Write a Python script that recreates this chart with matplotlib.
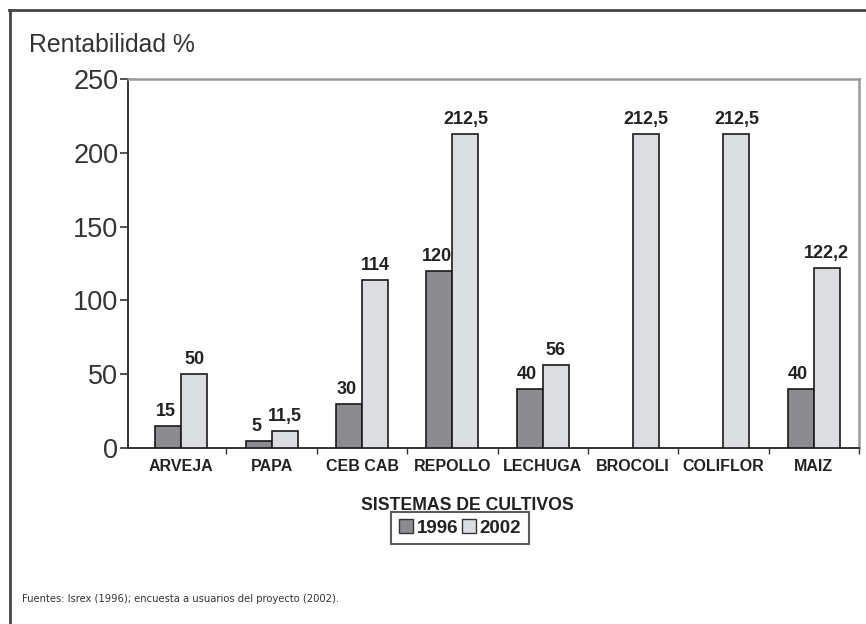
import matplotlib
matplotlib.use("Agg")
import matplotlib.pyplot as plt
import numpy as np
from matplotlib.patches import Patch
from matplotlib.lines import Line2D

categories = ["ARVEJA", "PAPA", "CEB CAB", "REPOLLO", "LECHUGA", "BROCOLI", "COLIFLOR", "MAIZ"]
values_1996 = [15, 5, 30, 120, 40, None, None, 40]
values_2002 = [50, 11.5, 114, 212.5, 56, 212.5, 212.5, 122.2]
labels_1996 = ["15", "5", "30", "120", "40", "", "", "40"]
labels_2002 = ["50", "11,5", "114", "212,5", "56", "212,5", "212,5", "122,2"]
yticks = [0, 50, 100, 150, 200, 250]
series_names = ["1996", "2002"]

plt.rcParams['font.family'] = ['Liberation Sans', 'DejaVu Sans']

fig = plt.figure(figsize=(8.66, 6.24), dpi=100)
ax = fig.add_axes([128/866, 1-448/624, (859-128)/866, (448-79)/624])

c1996 = "#8c8c90"
c2002 = "#dcdde0"
txt = "#222222"
w = 0.288
x = np.arange(len(categories))

for i in range(len(categories)):
    v1 = values_1996[i]
    v2 = values_2002[i]
    if v1 is not None:
        ax.bar(x[i] - w/2, v1, width=w, color=c1996, edgecolor="#1a1a1a", linewidth=1.2, zorder=3)
        ax.text(x[i] - w/2 - 0.03, v1 + 4, labels_1996[i], ha="center", va="bottom",
                fontsize=13, fontweight="bold", color=txt)
    if v2 is not None:
        ax.bar(x[i] + w/2, v2, width=w, color=c2002, edgecolor="#1a1a1a", linewidth=1.2, zorder=3)
        ax.text(x[i] + w/2, v2 + 4, labels_2002[i], ha="center", va="bottom",
                fontsize=13, fontweight="bold", color=txt)

ax.set_xlim(-0.59, len(categories) - 0.5)
ax.set_ylim(0, 250)
ax.set_yticks(yticks)
ax.set_yticklabels([str(t) for t in yticks], fontsize=19.5, color="#333333")
ax.tick_params(axis="y", direction="out", length=6, width=1.2, color="#333333", pad=1)

ax.set_xticks(x)
ax.set_xticklabels(categories, fontsize=11.5, fontweight="bold", color=txt)
ax.tick_params(axis="x", length=0, pad=8)
ax.set_xticks(np.arange(len(categories)) + 0.5, minor=True)
ax.tick_params(axis="x", which="minor", direction="out", length=4, width=1, color="#333333")

ax.spines["left"].set_color("#333333")
ax.spines["left"].set_linewidth(1.4)
ax.spines["bottom"].set_color("#333333")
ax.spines["bottom"].set_linewidth(1.4)
ax.spines["top"].set_color("#999999")
ax.spines["top"].set_linewidth(1.8)
ax.spines["right"].set_color("#999999")
ax.spines["right"].set_linewidth(1.8)

fig.text(29/866, 1-45/624, "Rentabilidad %", fontsize=17.8, color="#333333", ha="left", va="center")
fig.text(467/866, 1-505/624, "SISTEMAS DE CULTIVOS", fontsize=12.7, fontweight="bold",
         color=txt, ha="center", va="center")

handles = [Patch(facecolor=c1996, edgecolor="#333333", linewidth=1),
           Patch(facecolor=c2002, edgecolor="#333333", linewidth=1)]
leg = fig.legend(handles, series_names, loc="center", bbox_to_anchor=(460/866, 1-528/624),
                 ncol=2, frameon=True, fancybox=False, edgecolor="#333333",
                 prop={"weight": "bold", "size": 13.5}, handlelength=0.75, handleheight=0.75,
                 handletextpad=0.2, columnspacing=0.2, borderpad=0.4, borderaxespad=0)
leg.get_frame().set_linewidth(1.5)
for t in leg.get_texts():
    t.set_color(txt)

fig.text(22/866, 1-599/624, "Fuentes: Isrex (1996); encuesta a usuarios del proyecto (2002).",
         fontsize=8, color="#333333", ha="left", va="center",
         family=["DejaVu Sans"], fontstretch="condensed")

# outer frame (top and left edges visible)
fig.add_artist(Line2D([9/866, 1.0], [1-9.5/624, 1-9.5/624], color="#444444", linewidth=2))
fig.add_artist(Line2D([9.5/866, 9.5/866], [1-9.5/624, 0.0], color="#444444", linewidth=2))

fig.savefig("out.png", dpi=100)
